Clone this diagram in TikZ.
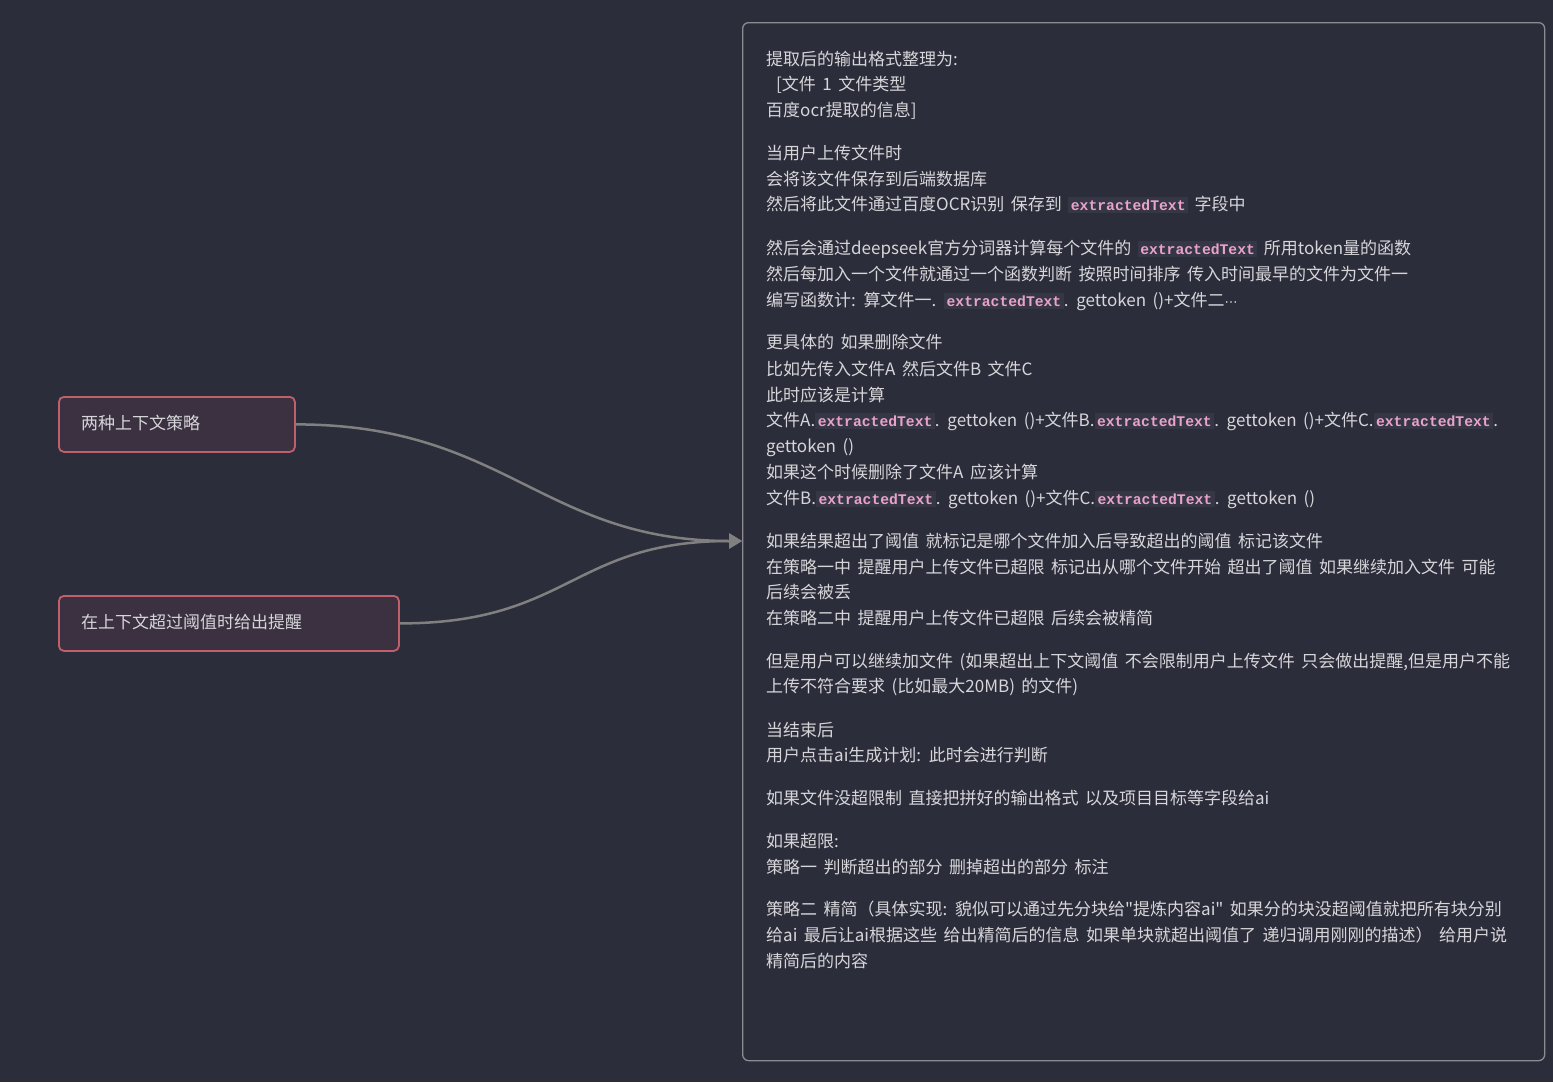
\documentclass[tikz,border=0pt]{standalone}
\usepackage{fontspec}
\setmainfont{Noto Sans CJK SC}[Ligatures=TeXOff, WordSpace=1.7]
\newfontfamily\codefont{Liberation Mono}[BoldFont={* Bold}]
\newfontfamily\symfont{DejaVu Sans}
\usetikzlibrary{arrows.meta}
\definecolor{bg}{HTML}{2C2D3A}
\definecolor{txt}{HTML}{D6D6DA}
\definecolor{boxline}{HTML}{8C8C90}
\definecolor{nodefill}{HTML}{3B3140}
\definecolor{nodeline}{HTML}{C0606A}
\definecolor{codebg}{HTML}{363745}
\definecolor{codepink}{HTML}{E8A2CC}
\definecolor{edge}{HTML}{808080}
\newcommand{\cd}[1]{{\setlength{\fboxsep}{2.5pt}\colorbox{codebg}{\textcolor{codepink}{\codefont\bfseries\fontsize{14.7}{16}\selectfont #1}}}}
\tikzset{
  textline/.style={anchor=base west, inner sep=0pt, text=txt, font=\fontsize{17}{25.7}\selectfont},
  topic/.style={draw=nodeline, line width=1.8pt, fill=nodefill, rounded corners=5pt, text=txt, anchor=north west, inner sep=0pt},
  conn/.style={draw=edge, line width=2.5pt, -{Triangle[length=13pt,width=15pt]}},
}
\begin{document}
\begin{tikzpicture}[x=1pt,y=-1pt]
\fill[bg] (0,0) rectangle (1553,1082);
\useasboundingbox (0,0) rectangle (1553,1082);
% big note box
\node[draw=boxline, line width=1.3pt, fill=bg, rounded corners=6pt, minimum width=802pt, minimum height=1038pt, anchor=north west, inner sep=0pt] (note) at (742,22) {};
% topics
\node[topic, minimum width=236pt, minimum height=55pt] (t1) at (58,396) {};
\node[textline] (t1txt) at (81,429) {两种上下文策略};
\node[topic, minimum width=340pt, minimum height=55pt] (t2) at (58,595) {};
\node[textline] (t2txt) at (81,628) {在上下文超过阈值时给出提醒};
\coordinate (tip) at (742,541);
\draw[conn] (t1.east) .. controls +(210,0) and +(-200,0) .. (tip);
\draw[conn] (t2.east) .. controls +(170,0) and +(-170,0) .. (tip);
% text lines
\node[textline] (l1) at (766,65) {提取后的输出格式整理为:};
\node[textline] (l2) at (766,90) {\hspace{10pt}[文件 1 文件类型};
\node[textline] (l3) at (766,116) {百度ocr提取的信息]};
\node[textline] (l4) at (766,159) {当用户上传文件时};
\node[textline] (l5) at (766,185) {会将该文件保存到后端数据库};
\node[textline] (l6) at (766,210) {然后将此文件通过百度OCR识别 保存到 \cd{extractedText} 字段中};
\node[textline] (l7) at (766,254) {然后会通过deepseek官方分词器计算每个文件的 \cd{extractedText} 所用token量的函数};
\node[textline] (l8) at (766,280) {然后每加入一个文件就通过一个函数判断 按照时间排序 传入时间最早的文件为文件一};
\node[textline] (l9) at (766,306) {编写函数计: 算文件一. \cd{extractedText}. gettoken ()+文件二{\symfont\fontsize{13}{16}\selectfont ⋯}};
\node[textline] (l10) at (766,348) {更具体的 如果删除文件};
\node[textline] (l11) at (766,375) {比如先传入文件A 然后文件B 文件C};
\node[textline] (l12) at (766,401) {此时应该是计算};
\node[textline] (l13) at (766,426) {文件A.\cd{extractedText}. gettoken ()+文件B.\cd{extractedText}. gettoken ()+文件C.\cd{extractedText}.};
\node[textline] (l14) at (766,452) {gettoken ()};
\node[textline] (l15) at (766,478) {如果这个时候删除了文件A 应该计算};
\node[textline] (l16) at (766,504) {文件B.\cd{extractedText}. gettoken ()+文件C.\cd{extractedText}. gettoken ()};
\node[textline] (l17) at (766,547) {如果结果超出了阈值 就标记是哪个文件加入后导致超出的阈值 标记该文件};
\node[textline] (l18) at (766,573) {在策略一中 提醒用户上传文件已超限 标记出从哪个文件开始 超出了阈值 如果继续加入文件 可能};
\node[textline] (l19) at (766,598) {后续会被丢};
\node[textline] (l20) at (766,624) {在策略二中 提醒用户上传文件已超限 后续会被精简};
\node[textline] (l21) at (766,667) {但是用户可以继续加文件 (如果超出上下文阈值 不会限制用户上传文件 只会做出提醒,但是用户不能};
\node[textline] (l22) at (766,692) {上传不符合要求 (比如最大20MB) 的文件)};
\node[textline] (l23) at (766,736) {当结束后};
\node[textline] (l24) at (766,761) {用户点击ai生成计划: 此时会进行判断};
\node[textline] (l25) at (766,804) {如果文件没超限制 直接把拼好的输出格式 以及项目目标等字段给ai};
\node[textline] (l26) at (766,847) {如果超限:};
\node[textline] (l27) at (766,873) {策略一 判断超出的部分 删掉超出的部分 标注};
\node[textline] (l28) at (766,915) {策略二 精简（具体实现: 貌似可以通过先分块给"提炼内容ai" 如果分的块没超阈值就把所有块分别};
\node[textline] (l29) at (766,941) {给ai 最后让ai根据这些 给出精简后的信息 如果单块就超出阈值了 递归调用刚刚的描述） 给用户说};
\node[textline] (l30) at (766,967) {精简后的内容};
\end{tikzpicture}
\end{document}
